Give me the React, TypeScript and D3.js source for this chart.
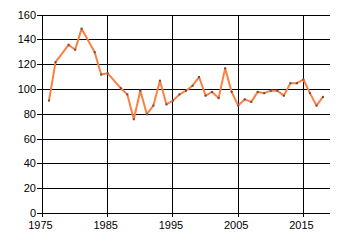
import React from "react";
import * as d3 from "d3";

const years = [1976,1977,1979,1980,1981,1983,1984,1985,1987,1988,1989,1990,1991,1992,1993,1994,1995,1996,1997,1998,1999,2000,2001,2002,2003,2004,2005,2006,2007,2008,2009,2010,2011,2012,2013,2014,2015,2016,2017,2018];
const values = [91,122,136,132,149,130,112,113,101,96,76,99,80,87,107,88,91,96,99,103,110,95,98,93,117,98,87,92,90,98,97,99,99,95,105,105,108,97,87,94];
const xTicks = [1975, 1985, 1995, 2005, 2015];
const yTicks = [0, 20, 40, 60, 80, 100, 120, 140, 160];

export default function App() {
  const W = 340, H = 245;
  const x = d3.scaleLinear().domain([1975, 2019]).range([42.5, 329.5]);
  const y = d3.scaleLinear().domain([0, 160]).range([213.5, 15]);
  const px = (v: number) => Math.floor(v) + 0.5;
  const data = years.map((yr, i) => ({ yr, v: values[i] }));
  const line = d3.line<{ yr: number; v: number }>().x(d => x(d.yr)).y(d => y(d.v));
  const font = "'Liberation Sans', Arial, sans-serif";
  return (
    <svg width={W} height={H} style={{ position: "absolute", left: 0, top: 0, background: "#fff" }}>
      <rect x={0} y={0} width={W} height={H} fill="#fff" />
      {yTicks.map(t => (
        <g key={"y" + t}>
          <line x1={37} x2={330} y1={px(y(t))} y2={px(y(t))} stroke="#000" strokeWidth={1} />
          <text x={36} y={px(y(t))} dy="0.35em" textAnchor="end" fontFamily={font} fontSize={11} fill="#000">{t}</text>
        </g>
      ))}
      {xTicks.map(t => (
        <g key={"x" + t}>
          <line x1={px(x(t))} x2={px(x(t))} y1={15} y2={217} stroke="#000" strokeWidth={1} />
          <text x={x(t) - 2} y={229} textAnchor="middle" fontFamily={font} fontSize={11} fill="#000">{t}</text>
        </g>
      ))}
      <path d={line(data) || ""} fill="none" stroke="#ff7f40" strokeWidth={2} strokeLinejoin="round" />
      {data.map(d => (
        <rect key={d.yr} x={x(d.yr) - 1} y={y(d.v) - 1} width={2} height={2} fill="#555" />
      ))}
    </svg>
  );
}
